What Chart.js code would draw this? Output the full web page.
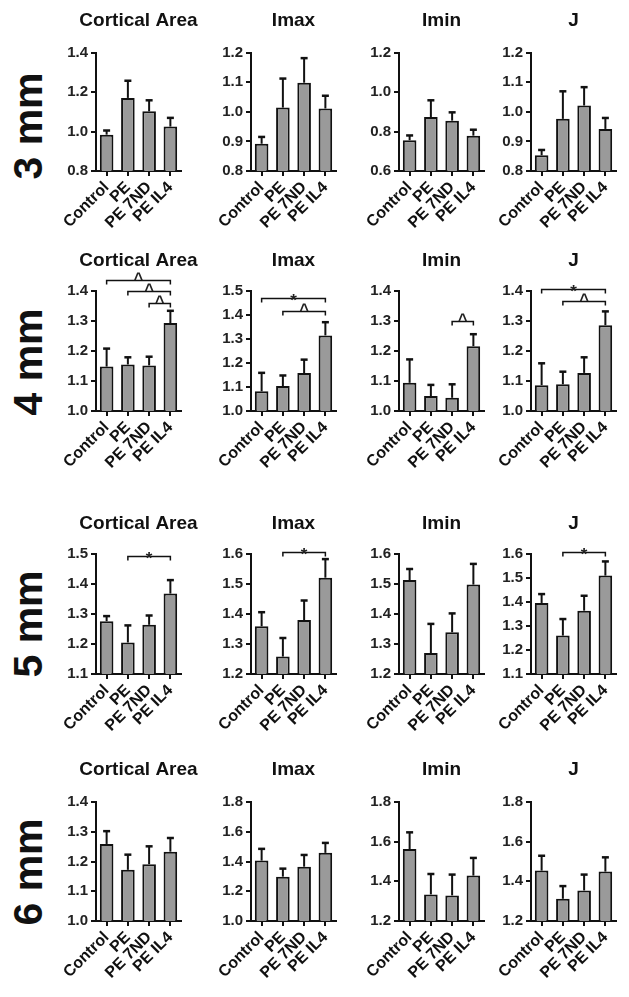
<!DOCTYPE html>
<html lang="en">
<head>
<meta charset="UTF-8">
<title>Bone geometry by distance</title>
<script src="https://cdn.jsdelivr.net/npm/chart.js@4.4.0/dist/chart.umd.min.js"></script>
<style>
  body { margin: 0; background: #fff; font-family: 'Liberation Sans', Arial, sans-serif; }
  #page { position: relative; width: 629px; height: 997px; overflow: hidden; }
  #page canvas { position: absolute; }
  .rowlab {
    position: absolute;
    font-weight: bold;
    font-size: 41px;
    line-height: 1;
    color: #111;
    white-space: nowrap;
    transform: translate(-50%, -50%) rotate(-90deg);
  }
</style>
</head>
<body>
<div id="page"></div>

<script>
const groups = ['Control', 'PE', 'PE 7ND', 'PE IL4'];
const measures = ['Cortical Area', 'Imax', 'Imin', 'J'];
const distances = ['3 mm', '4 mm', '5 mm', '6 mm'];

// 3 mm: means and SEM
const area3 = [0.984, 1.170, 1.102, 1.025];
const area3Sem = [0.021, 0.087, 0.056, 0.044];
const imax3 = [0.892, 1.014, 1.098, 1.011];
const imax3Sem = [0.023, 0.098, 0.083, 0.043];
const imin3 = [0.756, 0.873, 0.855, 0.779];
const imin3Sem = [0.024, 0.085, 0.042, 0.030];
const j3 = [0.853, 0.976, 1.021, 0.942];
const j3Sem = [0.018, 0.093, 0.062, 0.037];

// 4 mm
const area4 = [1.148, 1.155, 1.152, 1.293];
const area4Sem = [0.060, 0.024, 0.029, 0.041];
const imax4 = [1.082, 1.104, 1.158, 1.315];
const imax4Sem = [0.077, 0.044, 0.056, 0.055];
const imin4 = [1.094, 1.050, 1.044, 1.216];
const imin4Sem = [0.078, 0.037, 0.045, 0.040];
const j4 = [1.086, 1.089, 1.127, 1.286];
const j4Sem = [0.073, 0.042, 0.052, 0.046];

// 5 mm
const area5 = [1.276, 1.205, 1.264, 1.368];
const area5Sem = [0.017, 0.057, 0.031, 0.045];
const imax5 = [1.359, 1.258, 1.380, 1.521];
const imax5Sem = [0.047, 0.062, 0.065, 0.062];
const imin5 = [1.513, 1.270, 1.339, 1.498];
const imin5Sem = [0.037, 0.097, 0.063, 0.069];
const j5 = [1.396, 1.260, 1.364, 1.510];
const j5Sem = [0.037, 0.069, 0.062, 0.059];

// 6 mm
const area6 = [1.259, 1.172, 1.191, 1.233];
const area6Sem = [0.043, 0.051, 0.060, 0.046];
const imax6 = [1.406, 1.298, 1.365, 1.458];
const imax6Sem = [0.079, 0.054, 0.079, 0.067];
const imin6 = [1.563, 1.334, 1.329, 1.429];
const imin6Sem = [0.084, 0.103, 0.105, 0.089];
const j6 = [1.454, 1.312, 1.354, 1.449];
const j6Sem = [0.075, 0.064, 0.080, 0.072];

// y axis [min, max, step] for each panel of a row
const axes3 = [[0.8, 1.4, 0.2], [0.8, 1.2, 0.1], [0.6, 1.2, 0.2], [0.8, 1.2, 0.1]];
const axes4 = [[1.0, 1.4, 0.1], [1.0, 1.5, 0.1], [1.0, 1.4, 0.1], [1.0, 1.4, 0.1]];
const axes5 = [[1.1, 1.5, 0.1], [1.2, 1.6, 0.1], [1.2, 1.6, 0.1], [1.1, 1.6, 0.1]];
const axes6 = [[1.0, 1.4, 0.1], [1.0, 1.8, 0.2], [1.2, 1.8, 0.2], [1.2, 1.8, 0.2]];

// significance brackets: [from group, to group, level on y scale, mark]
const sig4 = [
  [[0, 3, 1.437, '^'], [1, 3, 1.401, '^'], [2, 3, 1.359, '^']],
  [[0, 3, 1.472, '*'], [1, 3, 1.416, '^']],
  [[2, 3, 1.300, '^']],
  [[0, 3, 1.405, '*'], [1, 3, 1.367, '^']]
];
const sig5 = [
  [[1, 3, 1.494, '*']],
  [[1, 3, 1.608, '*']],
  [],
  [[1, 3, 1.607, '*']]
];

const rows = [
  { means: [area3, imax3, imin3, j3], sem: [area3Sem, imax3Sem, imin3Sem, j3Sem], axes: axes3, sig: [[], [], [], []] },
  { means: [area4, imax4, imin4, j4], sem: [area4Sem, imax4Sem, imin4Sem, j4Sem], axes: axes4, sig: sig4 },
  { means: [area5, imax5, imin5, j5], sem: [area5Sem, imax5Sem, imin5Sem, j5Sem], axes: axes5, sig: sig5 },
  { means: [area6, imax6, imin6, j6], sem: [area6Sem, imax6Sem, imin6Sem, j6Sem], axes: axes6, sig: [[], [], [], []] }
];

// layout (pixels)
const colAxisX = [95.5, 251, 399.3, 531.3];
const rowTitleY = [20.7, 260.8, 523.7, 770];
const rowTop = [52.5, 291, 554, 802];
const rowBottom = [171, 410.5, 673.5, 920.5];
const rowLabelY = [126, 362, 624, 872];
const yAxisW = 45, plotW = 85, xAxisH = 72;

const ink = '#111';
const font = "'Liberation Sans', Arial, sans-serif";

// panel title, upper error bars and significance brackets
const extras = {
  id: 'extras',
  afterDatasetsDraw(chart, args, opts) {
    const ctx = chart.ctx;
    const y = chart.scales.y;
    const area = chart.chartArea;
    const ds = chart.data.datasets[0];
    const bars = chart.getDatasetMeta(0).data;
    ctx.save();

    ctx.fillStyle = ink;
    ctx.font = 'bold 19px ' + font;
    ctx.textAlign = 'center';
    ctx.textBaseline = 'middle';
    ctx.fillText(opts.title, (area.left + area.right) / 2, opts.titleY);

    ctx.strokeStyle = ink;
    ctx.lineCap = 'butt';
    bars.forEach((bar, i) => {
      const top = y.getPixelForValue(ds.data[i] + ds.sem[i]);
      ctx.lineWidth = 2;
      ctx.beginPath();
      ctx.moveTo(bar.x, bar.y);
      ctx.lineTo(bar.x, top);
      ctx.stroke();
      ctx.lineWidth = 2.5;
      ctx.beginPath();
      ctx.moveTo(bar.x - 3.5, top);
      ctx.lineTo(bar.x + 3.5, top);
      ctx.stroke();
    });

    ctx.lineWidth = 1.5;
    ctx.fillStyle = '#222';
    ctx.textBaseline = 'alphabetic';
    ds.sig.forEach(([a, b, level, mark]) => {
      const x1 = bars[a].x, x2 = bars[b].x;
      const yy = Math.round(y.getPixelForValue(level)) + 0.5;
      ctx.beginPath();
      ctx.moveTo(x1, yy + 4);
      ctx.lineTo(x1, yy);
      ctx.lineTo(x2, yy);
      ctx.lineTo(x2, yy + 4);
      ctx.stroke();
      if (mark === '*') {
        ctx.font = 'bold 17px ' + font;
        ctx.fillText(mark, (x1 + x2) / 2, yy + 7);
      } else {
        ctx.font = 'bold 16px ' + font;
        ctx.fillText(mark, (x1 + x2) / 2, yy + 3.5);
      }
    });
    ctx.restore();
  }
};

const page = document.getElementById('page');

distances.forEach((label, r) => {
  const div = document.createElement('div');
  div.className = 'rowlab';
  div.textContent = label;
  div.style.left = '28px';
  div.style.top = rowLabelY[r] + 'px';
  page.appendChild(div);
});

rows.forEach((row, r) => {
  measures.forEach((title, c) => {
    const top = Math.floor(rowTitleY[r] - 14);
    const width = yAxisW * 2 + plotW;
    const height = Math.round(rowBottom[r] - top + xAxisH);

    const canvas = document.createElement('canvas');
    canvas.width = width;
    canvas.height = height;
    canvas.style.left = (colAxisX[c] - yAxisW) + 'px';
    canvas.style.top = top + 'px';
    page.appendChild(canvas);

    const [yMin, yMax, step] = row.axes[c];

    new Chart(canvas, {
      type: 'bar',
      data: {
        labels: groups,
        datasets: [{
          data: row.means[c],
          sem: row.sem[c],
          sig: row.sig[c],
          backgroundColor: '#9a9a9a',
          borderColor: ink,
          borderWidth: 2,
          categoryPercentage: 1,
          barPercentage: 0.64
        }]
      },
      options: {
        responsive: false,
        animation: false,
        layout: { padding: { left: 0, right: yAxisW, top: rowTop[r] - top, bottom: 0 } },
        plugins: {
          legend: { display: false },
          tooltip: { enabled: false },
          title: { display: false },
          extras: { title: title, titleY: rowTitleY[r] - top }
        },
        scales: {
          x: {
            offset: true,
            grid: { offset: false, drawOnChartArea: false, drawTicks: true, tickLength: 5, color: ink, lineWidth: 2 },
            border: { display: true, color: ink, width: 2 },
            ticks: {
              autoSkip: false,
              minRotation: 45,
              maxRotation: 45,
              padding: 2,
              color: ink,
              font: { family: font, size: 16, weight: 'bold' }
            },
            afterFit: s => { s.height = xAxisH; }
          },
          y: {
            min: yMin,
            max: yMax,
            grid: { drawOnChartArea: false, drawTicks: true, tickLength: 5, color: ink, lineWidth: 2 },
            border: { display: true, color: ink, width: 2 },
            ticks: {
              stepSize: step,
              padding: 3,
              color: '#222',
              font: { family: font, size: 15, weight: 'bold' },
              callback: v => Number(v).toFixed(1)
            },
            afterFit: s => { s.width = yAxisW; }
          }
        }
      },
      plugins: [extras]
    });
  });
});
</script>
</body>
</html>
